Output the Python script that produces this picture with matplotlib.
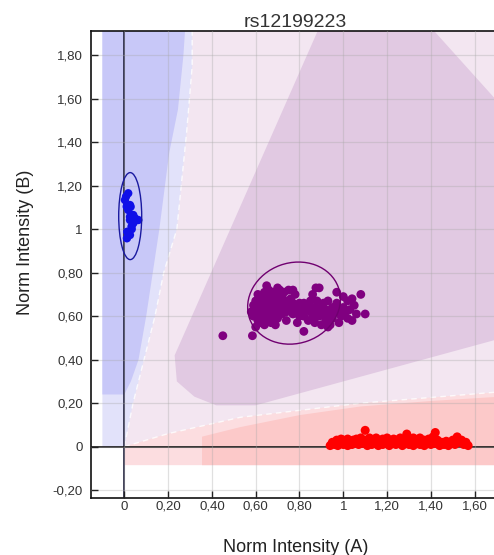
import matplotlib
matplotlib.use('Agg')
import matplotlib.pyplot as plt
from matplotlib.patches import Polygon, Ellipse

# ---- texts / ticks ----
title = "rs12199223"
xlabel = "Norm Intensity (A)"
ylabel = "Norm Intensity (B)"
xticks = [0, 0.2, 0.4, 0.6, 0.8, 1.0, 1.2, 1.4, 1.6]
xtick_labels = ["0", "0,20", "0,40", "0,60", "0,80", "1", "1,20", "1,40", "1,60"]
yticks = [-0.2, 0, 0.2, 0.4, 0.6, 0.8, 1.0, 1.2, 1.4, 1.6, 1.8]
ytick_labels = ["-0,20", "0", "0,20", "0,40", "0,60", "0,80", "1", "1,20", "1,40", "1,60", "1,80"]

# ---- cluster points (x, y) ----
blue_points = [(0.018, 1.165), (0.003, 1.134), (0.008, 1.15), (0.029, 1.103), (0.011, 1.104),
               (0.026, 1.111), (0.018, 1.088), (0.033, 1.065), (0.026, 1.057), (0.041, 1.065),
               (0.049, 1.05), (0.057, 1.042), (0.064, 1.042), (0.026, 1.042), (0.041, 1.027),
               (0.034, 1.00), (0.033, 1.012), (0.018, 0.98), (0.013, 0.988), (0.026, 0.973),
               (0.012, 0.958)]

purple_points = [(0.45, 0.51), (0.585, 0.51), (0.58, 0.62), (0.59, 0.60), (0.59, 0.65), (0.60, 0.63),
                 (0.60, 0.67), (0.61, 0.58), (0.61, 0.61), (0.61, 0.64), (0.62, 0.66), (0.62, 0.69),
                 (0.62, 0.57), (0.63, 0.60), (0.63, 0.63), (0.63, 0.68), (0.64, 0.62), (0.64, 0.65),
                 (0.64, 0.71), (0.65, 0.59), (0.65, 0.67), (0.65, 0.74), (0.66, 0.61), (0.66, 0.64),
                 (0.66, 0.69), (0.67, 0.57), (0.67, 0.63), (0.67, 0.66), (0.68, 0.60), (0.68, 0.68),
                 (0.68, 0.71), (0.69, 0.62), (0.69, 0.65), (0.70, 0.59), (0.70, 0.67), (0.70, 0.70),
                 (0.71, 0.63), (0.71, 0.72), (0.72, 0.61), (0.72, 0.66), (0.72, 0.69), (0.73, 0.64),
                 (0.73, 0.71), (0.74, 0.62), (0.74, 0.67), (0.75, 0.65), (0.75, 0.72), (0.76, 0.63),
                 (0.76, 0.68), (0.77, 0.61), (0.77, 0.66), (0.78, 0.64), (0.78, 0.70), (0.79, 0.62),
                 (0.80, 0.66), (0.80, 0.60), (0.81, 0.63), (0.82, 0.60), (0.82, 0.66), (0.83, 0.63),
                 (0.84, 0.58), (0.84, 0.65), (0.85, 0.62), (0.85, 0.67), (0.86, 0.60), (0.87, 0.64),
                 (0.87, 0.57), (0.88, 0.62), (0.88, 0.67), (0.89, 0.60), (0.89, 0.73), (0.90, 0.64),
                 (0.91, 0.61), (0.91, 0.66), (0.92, 0.58), (0.92, 0.63), (0.93, 0.55), (0.93, 0.67),
                 (0.94, 0.61), (0.95, 0.64), (0.95, 0.59), (0.96, 0.62), (0.97, 0.71), (0.97, 0.66),
                 (0.98, 0.57), (0.98, 0.63), (0.99, 0.60), (1.00, 0.69), (1.00, 0.64), (1.01, 0.62),
                 (1.02, 0.67), (1.02, 0.59), (1.03, 0.63), (1.04, 0.58), (1.05, 0.65), (1.06, 0.61),
                 (1.08, 0.70), (1.10, 0.61), (0.82, 0.53), (0.70, 0.73), (0.77, 0.72), (0.875, 0.73),
                 (0.90, 0.56), (0.65, 0.58), (0.60, 0.55), (0.64, 0.56), (0.69, 0.56), (0.74, 0.58),
                 (0.79, 0.57), (0.66, 0.72), (0.61, 0.70), (0.86, 0.70), (0.94, 0.56), (1.04, 0.68)]

red_points = [(0.94, 0.005), (0.95, 0.02), (0.96, 0.01), (0.97, 0.03), (0.975, 0.005), (0.98, 0.02),
              (0.99, 0.035), (1.00, 0.01), (1.00, 0.03), (1.01, 0.02), (1.02, 0.005), (1.02, 0.035),
              (1.03, 0.02), (1.04, 0.01), (1.045, 0.03), (1.05, 0.02), (1.06, 0.035), (1.07, 0.01),
              (1.07, 0.025), (1.08, 0.04), (1.09, 0.015), (1.10, 0.075), (1.10, 0.03), (1.11, 0.005),
              (1.12, 0.02), (1.12, 0.04), (1.13, 0.01), (1.14, 0.03), (1.15, 0.015), (1.15, 0.04),
              (1.16, 0.005), (1.17, 0.025), (1.18, 0.035), (1.18, 0.01), (1.19, 0.02), (1.20, 0.04),
              (1.21, 0.005), (1.21, 0.025), (1.22, 0.015), (1.23, 0.035), (1.24, 0.01), (1.24, 0.03),
              (1.25, 0.02), (1.26, 0.04), (1.27, 0.005), (1.27, 0.025), (1.28, 0.015), (1.29, 0.058),
              (1.29, 0.035), (1.30, 0.01), (1.31, 0.025), (1.32, 0.04), (1.32, 0.005), (1.33, 0.02),
              (1.34, 0.03), (1.35, 0.01), (1.35, 0.04), (1.36, 0.02), (1.37, 0.005), (1.37, 0.03),
              (1.38, 0.015), (1.39, 0.035), (1.40, 0.01), (1.40, 0.025), (1.41, 0.045), (1.42, 0.065),
              (1.42, 0.015), (1.43, 0.03), (1.44, 0.005), (1.45, 0.02), (1.46, 0.01), (1.47, 0.025),
              (1.48, 0.005), (1.49, 0.015), (1.50, 0.03), (1.51, 0.01), (1.52, 0.045), (1.53, 0.02),
              (1.54, 0.03), (1.55, 0.01), (1.56, 0.02), (1.57, 0.005)]

# cluster ellipses: (center x, center y, width, height, angle)
blue_ellipse = (0.027, 1.06, 0.105, 0.40, 0)
purple_ellipse = (0.775, 0.66, 0.43, 0.37, 20)

# ---- genotype call zones (polygon vertices) ----
zone_bg = [(0.0, 0.0), (1.8, 0.0), (1.8, 2.0), (0.0, 2.0)]
zone_blue_light = [(-0.1, 0.0), (0.0, 0.0), (0.04, 0.2), (0.09, 0.4), (0.14, 0.6), (0.18, 0.8),
                   (0.24, 1.0), (0.285, 1.45), (0.31, 1.75), (0.31, 2.0), (-0.1, 2.0)]
zone_blue_dark = [(-0.1, 0.24), (0.0, 0.24), (0.03, 0.30), (0.065, 0.40), (0.10, 0.6), (0.13, 0.8),
                  (0.16, 1.0), (0.205, 1.35), (0.245, 1.55), (0.27, 1.8), (0.283, 2.0), (-0.1, 2.0)]
zone_red_light = [(0.0, -0.085), (1.8, -0.085), (1.8, 0.27), (1.69, 0.25), (1.08, 0.2),
                  (0.53, 0.135), (0.2, 0.06), (0.0, 0.0)]
zone_red_dark = [(0.355, -0.085), (1.8, -0.085), (1.8, 0.235), (1.40, 0.21), (1.08, 0.185),
                 (0.80, 0.145), (0.53, 0.09), (0.355, 0.046)]
zone_purple = [(0.90, 1.95), (1.38, 1.95), (1.80, 1.48), (1.80, 0.52), (0.60, 0.19), (0.42, 0.19),
               (0.32, 0.23), (0.24, 0.30), (0.23, 0.42)]
blue_edge = zone_blue_light[1:10]
red_edge = [(0.0, 0.0), (0.2, 0.06), (0.53, 0.135), (1.08, 0.2), (1.69, 0.25), (1.8, 0.26)]

zone_colors = {
    'bg': '#f3e6f1', 'blue_light': '#e2e2fa', 'blue_dark': '#c8c8f8',
    'red_light': '#fcdde0', 'red_dark': '#fcc9c9', 'purple': '#e1c9e2'
}

fig = plt.figure(figsize=(4.94, 5.55), dpi=100)
ax = fig.add_axes([91 / 494, 1 - 498 / 555, (499 - 91) / 494, (498 - 31) / 555])
ax.set_facecolor('white')
ax.set_xlim(-0.152, -0.152 + 408 / 219)
ax.set_ylim(-0.236, 1.911)

for verts, key in [(zone_bg, 'bg'), (zone_blue_light, 'blue_light'), (zone_blue_dark, 'blue_dark'),
                   (zone_red_light, 'red_light'), (zone_red_dark, 'red_dark'), (zone_purple, 'purple')]:
    ax.add_patch(Polygon(verts, closed=True, facecolor=zone_colors[key], edgecolor='none', zorder=0))

for edge in (blue_edge, red_edge):
    ex, ey = zip(*edge)
    ax.plot(ex, ey, color='white', lw=1.0, ls=(0, (4, 3)), alpha=0.8, zorder=0.5)

ax.set_xticks(xticks)
ax.set_xticklabels(xtick_labels)
ax.set_yticks(yticks)
ax.set_yticklabels(ytick_labels)
ax.grid(True, color='#a8a8a8', lw=0.9, alpha=0.35, zorder=1)
ax.set_axisbelow(False)

ax.axvline(0, color='#1c1c3a', lw=1.2, zorder=2)
ax.axhline(0, color='#111111', lw=1.2, zorder=2)

for pts, col, size in [(blue_points, '#1010e8', 36), (purple_points, '#800080', 40),
                       (red_points, '#ff0000', 42)]:
    px, py = zip(*pts)
    ax.scatter(px, py, s=size, color=col, edgecolors='none', zorder=3)

for (cx, cy, w, h, ang), col in [(blue_ellipse, '#1a1aa0'), (purple_ellipse, '#700070')]:
    ax.add_patch(Ellipse((cx, cy), w, h, angle=ang, fill=False, edgecolor=col, lw=1.0, zorder=4))

ax.tick_params(direction='in', length=5, width=1.0, color='#222222', labelsize=9.5,
               labelcolor='#333333')
ax.tick_params(axis='y', pad=5.8)
ax.tick_params(axis='x', pad=1.8)
for lab in ax.get_xticklabels() + ax.get_yticklabels():
    lab.set_family('Liberation Sans')

for s in ('left', 'bottom', 'top'):
    ax.spines[s].set_linewidth(1.2)
    ax.spines[s].set_color('#111111')
ax.spines['right'].set_visible(False)

ax.set_title(title, fontsize=14, family='Liberation Sans', color='#333333', pad=3)
ax.set_xlabel(xlabel, fontsize=13, family='Liberation Sans', color='#222222')
ax.set_ylabel(ylabel, fontsize=13, family='Liberation Sans', color='#222222')
ax.xaxis.set_label_coords(0.502, -0.087)
ax.yaxis.set_label_coords(-0.14, 0.548)

fig.savefig('out.png', dpi=100)
